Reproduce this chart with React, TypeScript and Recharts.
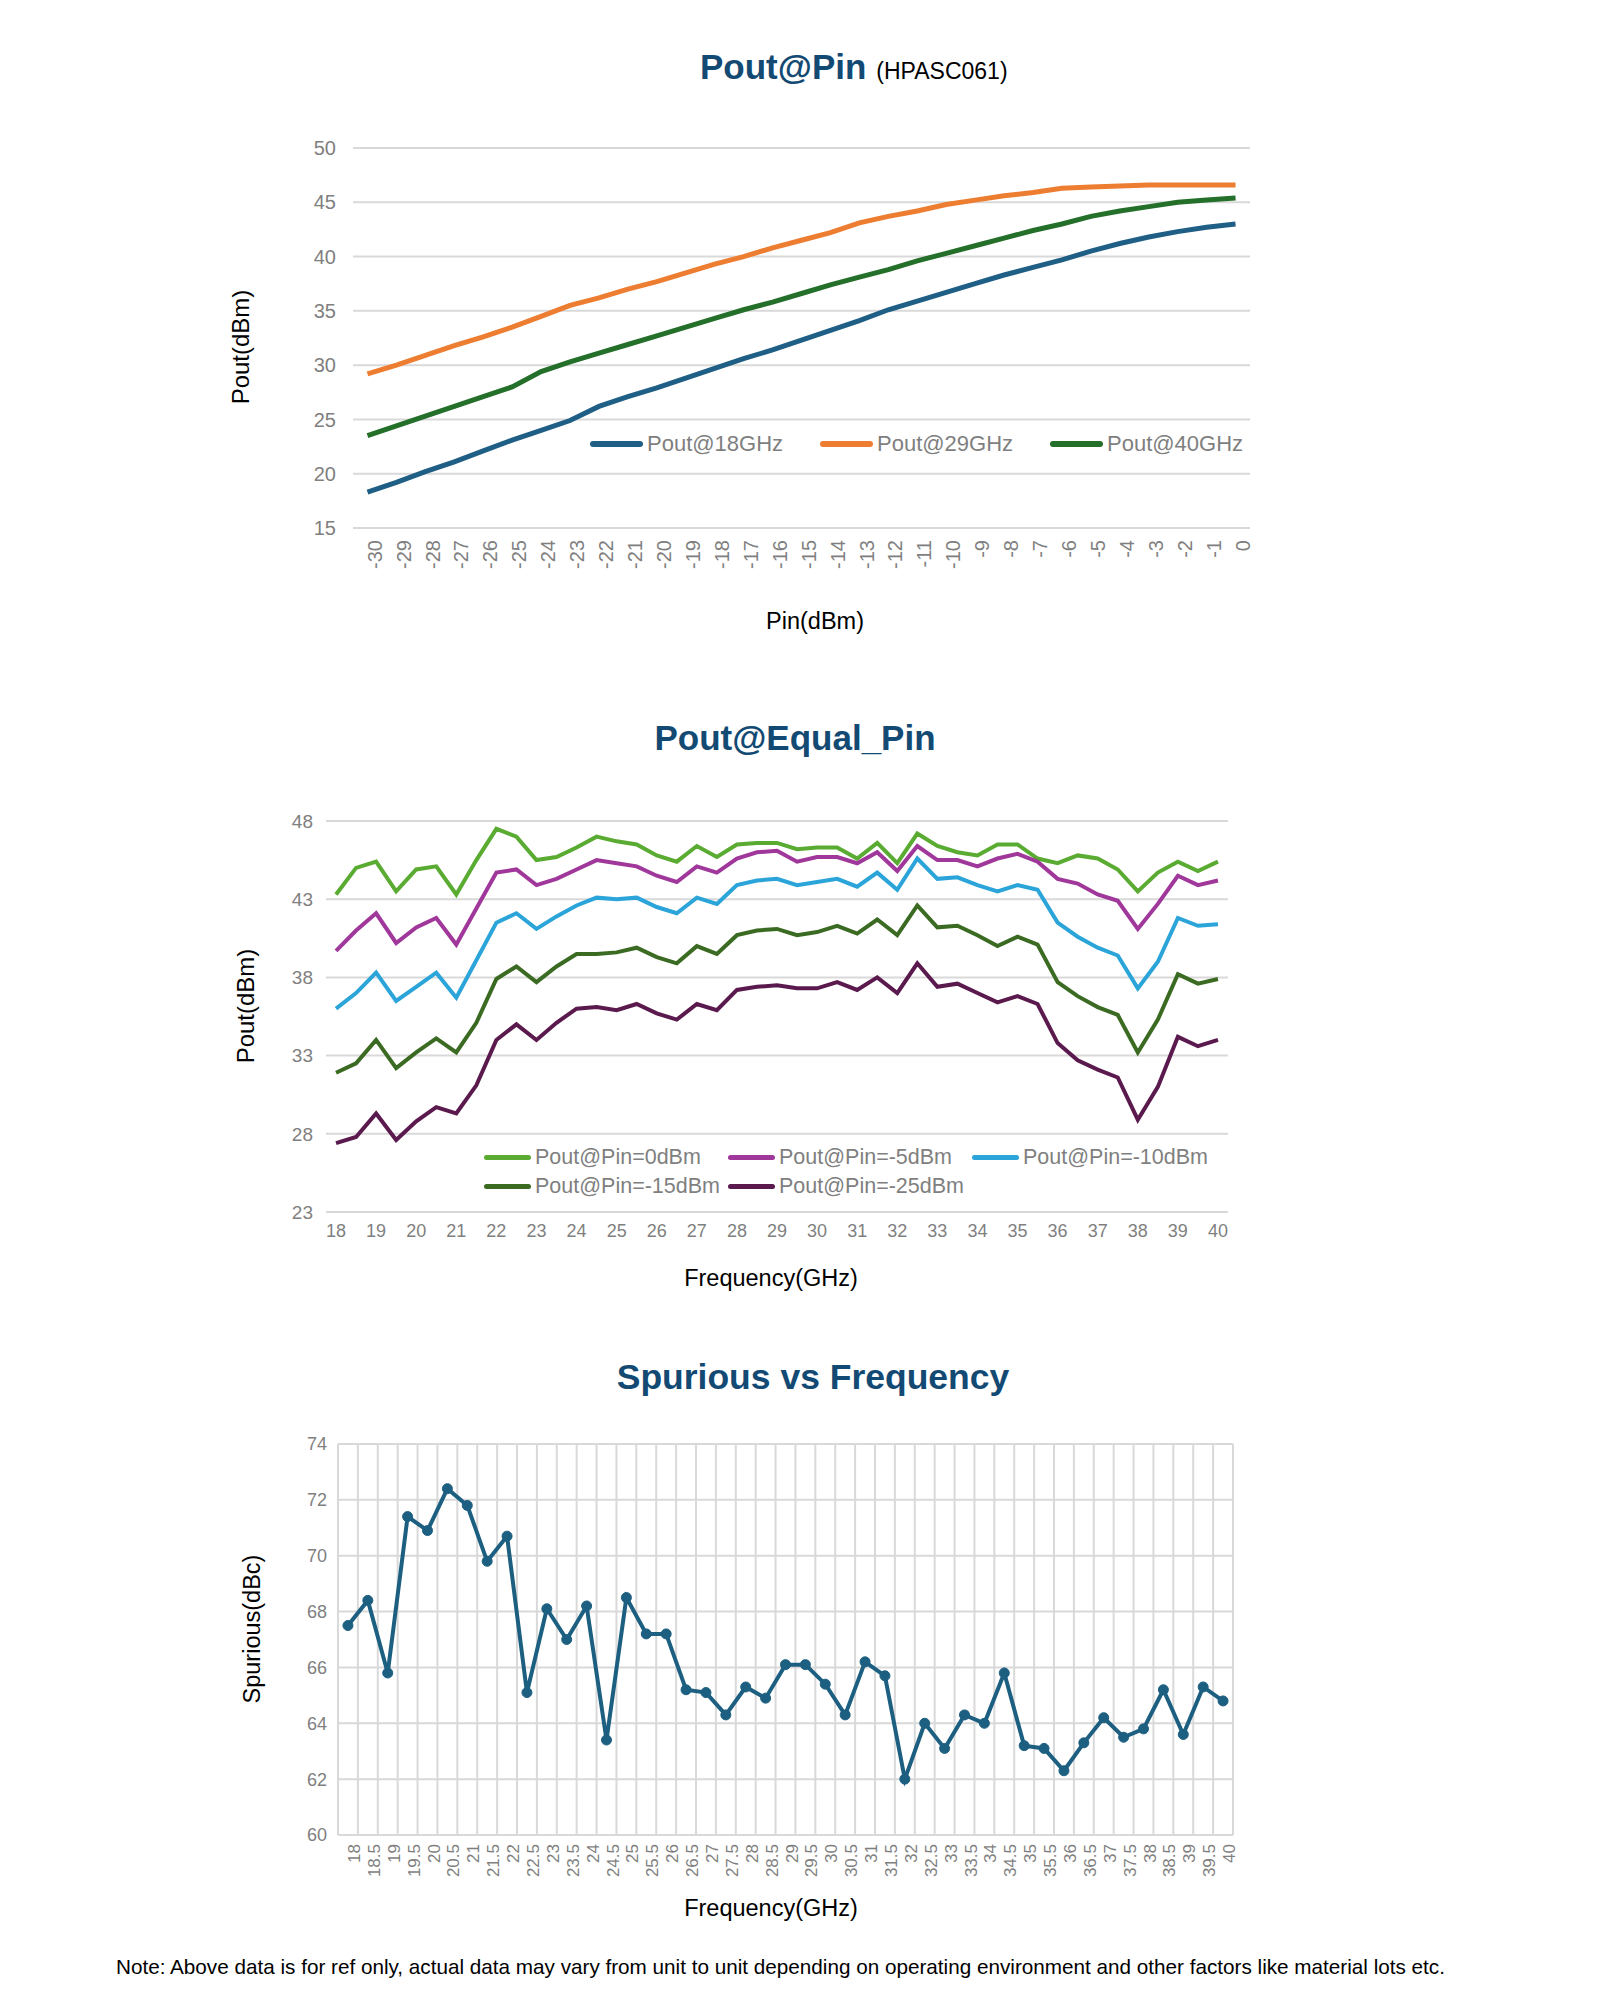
import { LineChart, Line, XAxis, YAxis, CartesianGrid, Legend } from "recharts";

// ---- Pout@Pin (HPASC061) ----
const pinValues = [-30, -29, -28, -27, -26, -25, -24, -23, -22, -21, -20, -19, -18, -17, -16, -15, -14, -13, -12, -11, -10, -9, -8, -7, -6, -5, -4, -3, -2, -1, 0];
const pout18 = [18.3, 19.2, 20.2, 21.1, 22.1, 23.1, 24.0, 24.9, 26.2, 27.1, 27.9, 28.8, 29.7, 30.6, 31.4, 32.3, 33.2, 34.1, 35.1, 35.9, 36.7, 37.5, 38.3, 39.0, 39.7, 40.5, 41.2, 41.8, 42.3, 42.7, 43.0];
const pout29 = [29.2, 30.0, 30.9, 31.8, 32.6, 33.5, 34.5, 35.5, 36.2, 37.0, 37.7, 38.5, 39.3, 40.0, 40.8, 41.5, 42.2, 43.1, 43.7, 44.2, 44.8, 45.2, 45.6, 45.9, 46.3, 46.4, 46.5, 46.6, 46.6, 46.6, 46.6];
const pout40 = [23.5, 24.4, 25.3, 26.2, 27.1, 28.0, 29.4, 30.3, 31.1, 31.9, 32.7, 33.5, 34.3, 35.1, 35.8, 36.6, 37.4, 38.1, 38.8, 39.6, 40.3, 41.0, 41.7, 42.4, 43.0, 43.7, 44.2, 44.6, 45.0, 45.2, 45.4];
const poutTicks = [15, 20, 25, 30, 35, 40, 45, 50];
const pinNames = ["Pout@18GHz", "Pout@29GHz", "Pout@40GHz"];

// ---- Pout@Equal_Pin / Spurious: frequency in GHz ----
const freqs = [18, 18.5, 19, 19.5, 20, 20.5, 21, 21.5, 22, 22.5, 23, 23.5, 24, 24.5, 25, 25.5, 26, 26.5, 27, 27.5, 28, 28.5, 29, 29.5, 30, 30.5, 31, 31.5, 32, 32.5, 33, 33.5, 34, 34.5, 35, 35.5, 36, 36.5, 37, 37.5, 38, 38.5, 39, 39.5, 40];
const freqTicks = [18, 19, 20, 21, 22, 23, 24, 25, 26, 27, 28, 29, 30, 31, 32, 33, 34, 35, 36, 37, 38, 39, 40];
const pin0 = [43.3, 45.0, 45.4, 43.5, 44.9, 45.1, 43.3, 45.5, 47.5, 47.0, 45.5, 45.7, 46.3, 47.0, 46.7, 46.5, 45.8, 45.4, 46.4, 45.7, 46.5, 46.6, 46.6, 46.2, 46.3, 46.3, 45.6, 46.6, 45.3, 47.2, 46.4, 46.0, 45.8, 46.5, 46.5, 45.6, 45.3, 45.8, 45.6, 44.9, 43.5, 44.7, 45.4, 44.8, 45.4];
const pin5 = [39.7, 41.0, 42.1, 40.2, 41.2, 41.8, 40.1, 42.4, 44.7, 44.9, 43.9, 44.3, 44.9, 45.5, 45.3, 45.1, 44.5, 44.1, 45.1, 44.7, 45.6, 46.0, 46.1, 45.4, 45.7, 45.7, 45.3, 46.0, 44.8, 46.4, 45.5, 45.5, 45.1, 45.6, 45.9, 45.4, 44.3, 44.0, 43.3, 42.9, 41.1, 42.7, 44.5, 43.9, 44.2];
const pin10 = [36.0, 37.0, 38.3, 36.5, 37.4, 38.3, 36.7, 39.1, 41.5, 42.1, 41.1, 41.9, 42.6, 43.1, 43.0, 43.1, 42.5, 42.1, 43.1, 42.7, 43.9, 44.2, 44.3, 43.9, 44.1, 44.3, 43.8, 44.7, 43.6, 45.6, 44.3, 44.4, 43.9, 43.5, 43.9, 43.6, 41.5, 40.6, 39.9, 39.4, 37.3, 39.0, 41.8, 41.3, 41.4];
const pin15 = [31.9, 32.5, 34.0, 32.2, 33.2, 34.1, 33.2, 35.1, 37.9, 38.7, 37.7, 38.7, 39.5, 39.5, 39.6, 39.9, 39.3, 38.9, 40.0, 39.5, 40.7, 41.0, 41.1, 40.7, 40.9, 41.3, 40.8, 41.7, 40.7, 42.6, 41.2, 41.3, 40.7, 40.0, 40.6, 40.1, 37.7, 36.8, 36.1, 35.6, 33.2, 35.3, 38.2, 37.6, 37.9];
const pin25 = [27.4, 27.8, 29.3, 27.6, 28.8, 29.7, 29.3, 31.1, 34.0, 35.0, 34.0, 35.1, 36.0, 36.1, 35.9, 36.3, 35.7, 35.3, 36.3, 35.9, 37.2, 37.4, 37.5, 37.3, 37.3, 37.7, 37.2, 38.0, 37.0, 38.9, 37.4, 37.6, 37.0, 36.4, 36.8, 36.3, 33.8, 32.7, 32.1, 31.6, 28.9, 31.0, 34.2, 33.6, 34.0];
const equalTicks = [23, 28, 33, 38, 43, 48];
const equalNames = ["Pout@Pin=0dBm", "Pout@Pin=-5dBm", "Pout@Pin=-10dBm", "Pout@Pin=-15dBm", "Pout@Pin=-25dBm"];

const spurious = [67.5, 68.4, 65.8, 71.4, 70.9, 72.4, 71.8, 69.8, 70.7, 65.1, 68.1, 67.0, 68.2, 63.4, 68.5, 67.2, 67.2, 65.2, 65.1, 64.3, 65.3, 64.9, 66.1, 66.1, 65.4, 64.3, 66.2, 65.7, 62.0, 64.0, 63.1, 64.3, 64.0, 65.8, 63.2, 63.1, 62.3, 63.3, 64.2, 63.5, 63.8, 65.2, 63.6, 65.3, 64.8];
const spurTicks = [60, 62, 64, 66, 68, 70, 72, 74];

const pinRows = pinValues.map((pin, i) => ({ pin, p18: pout18[i], p29: pout29[i], p40: pout40[i] }));
const equalRows = freqs.map((f, i) => ({ f, a: pin0[i], b: pin5[i], c: pin10[i], d: pin15[i], e: pin25[i] }));
const spurRows = freqs.map((f, i) => ({ f, s: spurious[i] }));
// category borders for the vertical grid of the spurious chart
const freqBorders = [...freqs.map((f) => f - 0.25), freqs[freqs.length - 1] + 0.25];

const SANS = '"Liberation Sans", Arial, sans-serif';
const TITLE = "#134a73";
const GRID = "#d9d9d9";
const TICK = "#7f7f7f";

// legend in Excel style: fixed-width columns, kept in series order
const legendOf = (order: string[], colWidth: number, lineLen: number, lineW: number, fontSize: number, rowH: number) => (props: any) => {
  const items = [...(props.payload || [])].sort((p: any, q: any) => order.indexOf(p.value) - order.indexOf(q.value));
  return (
    <div style={{ display: "flex", flexWrap: "wrap", width: colWidth * 3 }}>
      {items.map((e: any) => (
        <div key={e.value} style={{ width: colWidth, height: rowH, display: "flex", alignItems: "center" }}>
          <span style={{ display: "inline-block", width: lineLen, height: lineW, borderRadius: lineW / 2, background: e.color }} />
          <span style={{ marginLeft: 4, color: TICK, fontSize, fontFamily: SANS, whiteSpace: "nowrap" }}>{e.value}</span>
        </div>
      ))}
    </div>
  );
};

const Txt = ({ x, y, size, rotate, bold, color, children }: any) => (
  <div style={{
    position: "absolute", left: x, top: y, whiteSpace: "nowrap", fontFamily: SANS, fontSize: size,
    fontWeight: bold ? 700 : 400, color: color || "#000", lineHeight: 1,
    transform: `translate(-50%, -50%)${rotate ? " rotate(-90deg)" : ""}`,
  }}>{children}</div>
);

export default function App() {
  return (
    <div style={{ position: "absolute", left: 0, top: 0, width: 1600, height: 2000, background: "#fff", fontFamily: SANS }}>
      {/* chart 1 */}
      <div style={{ position: "absolute", left: 700, top: 47, display: "flex", alignItems: "baseline", whiteSpace: "nowrap" }}>
        <span style={{ fontSize: 35, fontWeight: 700, color: TITLE }}>Pout@Pin</span>
        <span style={{ fontSize: 23, marginLeft: 10, color: "#000" }}>(HPASC061)</span>
      </div>
      <Txt x={241} y={347} size={24} rotate>Pout(dBm)</Txt>
      <Txt x={815} y={622} size={23.5}>Pin(dBm)</Txt>
      <div style={{ position: "absolute", left: 0, top: 0 }}>
        <LineChart width={1600} height={640} data={pinRows} margin={{ top: 148, right: 350, left: 293, bottom: 52 }}>
          <CartesianGrid vertical={false} stroke={GRID} strokeWidth={2} />
          <XAxis dataKey="pin" type="number" domain={[-30.5, 0.5]} ticks={pinValues} interval={0} height={60}
            axisLine={false} tickLine={false} tickSize={0} tickMargin={12} angle={-90}
            tick={{ fontSize: 20, fill: TICK, fontFamily: SANS, textAnchor: "end", verticalAnchor: "middle" }} />
          <YAxis type="number" domain={[15, 50]} ticks={poutTicks} width={60} axisLine={false} tickLine={false}
            tickSize={0} tickMargin={17} tick={{ fontSize: 20, fill: TICK, fontFamily: SANS }} />
          <Legend layout="vertical" verticalAlign="middle" align="center" content={legendOf(pinNames, 230, 53, 6, 22, 30)}
            wrapperStyle={{ left: 590, top: 429 }} />
          <Line dataKey="p18" name={pinNames[0]} stroke="#1f5f86" strokeWidth={5} dot={false} isAnimationActive={false} />
          <Line dataKey="p29" name={pinNames[1]} stroke="#ed7d31" strokeWidth={5} dot={false} isAnimationActive={false} />
          <Line dataKey="p40" name={pinNames[2]} stroke="#246f2a" strokeWidth={5} dot={false} isAnimationActive={false} />
        </LineChart>
      </div>

      {/* chart 2 */}
      <Txt x={795} y={737} size={35} bold color={TITLE}>Pout@Equal_Pin</Txt>
      <Txt x={246} y={1006} size={24} rotate>Pout(dBm)</Txt>
      <Txt x={771} y={1279} size={23.5}>Frequency(GHz)</Txt>
      <div style={{ position: "absolute", left: 0, top: 700 }}>
        <LineChart width={1600} height={600} data={equalRows} margin={{ top: 121, right: 372, left: 266, bottom: 48 }}>
          <CartesianGrid vertical={false} stroke={GRID} strokeWidth={2} />
          <XAxis dataKey="f" type="number" domain={[17.75, 40.25]} ticks={freqTicks} interval={0} height={40}
            axisLine={false} tickLine={false} tickSize={0} tickMargin={12}
            tick={{ fontSize: 18, fill: TICK, fontFamily: SANS }} />
          <YAxis type="number" domain={[23, 48]} ticks={equalTicks} width={60} axisLine={false} tickLine={false}
            tickSize={0} tickMargin={13} tick={{ fontSize: 19, fill: TICK, fontFamily: SANS }} />
          <Legend layout="vertical" verticalAlign="middle" align="center" content={legendOf(equalNames, 244, 47, 5, 21.5, 29)}
            wrapperStyle={{ left: 484, top: 443 }} />
          <Line dataKey="a" name={equalNames[0]} stroke="#5aab32" strokeWidth={4} dot={false} isAnimationActive={false} />
          <Line dataKey="b" name={equalNames[1]} stroke="#a0379b" strokeWidth={4} dot={false} isAnimationActive={false} />
          <Line dataKey="c" name={equalNames[2]} stroke="#2ba5d9" strokeWidth={4} dot={false} isAnimationActive={false} />
          <Line dataKey="d" name={equalNames[3]} stroke="#3b6b22" strokeWidth={4} dot={false} isAnimationActive={false} />
          <Line dataKey="e" name={equalNames[4]} stroke="#5b1a4d" strokeWidth={4} dot={false} isAnimationActive={false} />
        </LineChart>
      </div>

      {/* chart 3 */}
      <Txt x={813} y={1378} size={35.5} bold color={TITLE}>Spurious vs Frequency</Txt>
      <Txt x={253} y={1629} size={23.5} rotate>Spurious(dBc)</Txt>
      <Txt x={771} y={1909} size={23.5}>Frequency(GHz)</Txt>
      <div style={{ position: "absolute", left: 0, top: 1400 }}>
        <LineChart width={1600} height={560} data={spurRows} margin={{ top: 44, right: 367, left: 278, bottom: 65 }}>
          <CartesianGrid stroke={GRID} strokeWidth={2} verticalValues={freqBorders} />
          <XAxis dataKey="f" type="number" domain={[17.75, 40.25]} ticks={freqs} interval={0} height={60}
            axisLine={false} tickLine={false} tickSize={0} tickMargin={9} angle={-90}
            tick={{ fontSize: 17, fill: TICK, fontFamily: SANS, textAnchor: "end", verticalAnchor: "middle" }} />
          <YAxis type="number" domain={[60, 74]} ticks={spurTicks} width={60} axisLine={false} tickLine={false}
            tickSize={0} tickMargin={11} tick={{ fontSize: 18, fill: TICK, fontFamily: SANS }} />
          <Line dataKey="s" stroke="#1d5f80" strokeWidth={4} isAnimationActive={false}
            dot={{ r: 5, fill: "#1d5f80", stroke: "#1d5f80", strokeWidth: 1 }} />
        </LineChart>
      </div>

      <div style={{ position: "absolute", left: 116, top: 1955, fontSize: 20.7, whiteSpace: "nowrap", color: "#000" }}>
        Note: Above data is for ref only, actual data may vary from unit to unit depending on operating environment and other factors like material lots etc.
      </div>
    </div>
  );
}
